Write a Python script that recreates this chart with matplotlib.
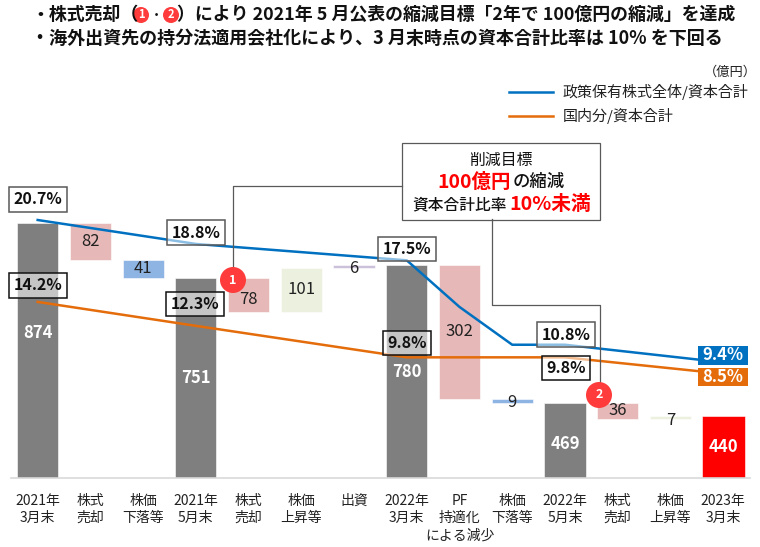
import numpy as np
import matplotlib
matplotlib.use("Agg")
import matplotlib.pyplot as plt
from matplotlib.patches import Circle, Rectangle

plt.rcParams['font.family'] = ['Noto Sans CJK JP', 'DejaVu Sans']

# data
categories = ['2021年\n3月末', '株式\n売却', '株価\n下落等', '2021年\n5月末', '株式\n売却', '株価\n上昇等', '出資',
              '2022年\n3月末', 'PF\n持適化\nによる減少', '株価\n下落等', '2022年\n5月末', '株式\n売却', '株価\n上昇等',
              '2023年\n3月末']
bar_low = [300, 792, 751, 300, 673, 673, 774, 300, 478, 469, 300, 433, 433, 300]
bar_high = [874, 874, 792, 751, 751, 774, 780, 780, 780, 478, 469, 469, 440, 440]
bar_labels = ['874', '82', '41', '751', '78', '101', '6', '780', '302', '9', '469', '36', '7', '440']
bar_colors = ['#7f7f7f', '#e6b9b8', '#8eb4e3', '#7f7f7f', '#e6b9b8', '#ebf1de', '#ccc1da',
              '#7f7f7f', '#e6b9b8', '#8eb4e3', '#7f7f7f', '#e6b9b8', '#ebf1de', '#ff0000']
label_colors = ['white', '#222222', '#222222', 'white', '#222222', '#222222', '#222222',
                'white', '#222222', '#222222', 'white', '#222222', '#222222', 'white']
label_shift = [18, 0, 0, 0, -4, 0, -2, 0, 0, -1, -3, 1, -3, 0]  # px, labels are not quite centred

total_x = [0, 3, 7, 8, 9, 10, 13]
total_ratio = [20.7, 18.8, 17.5, 13.8, 10.8, 10.8, 9.4]
domestic_x = [0, 3, 7, 8, 9, 10, 13]
domestic_ratio = [14.2, 12.3, 9.8, 9.8, 9.8, 9.8, 8.5]

# ratio boxes: text, centre x, centre y in px, edge colour
ratio_boxes = [('20.7%', 38, 199.5, '#595959'), ('14.2%', 38, 285.5, '#111111'), ('18.8%', 196, 232.5, '#595959'),
               ('12.3%', 195, 304, '#111111'), ('17.5%', 407, 249, '#595959'), ('9.8%', 407, 343, '#111111'),
               ('10.8%', 566, 334.5, '#595959'), ('9.8%', 566, 368, '#111111')]

W, H = 760, 547
base_px, top_px = 478.3, 167
left_px, right_px = 11.3, 749.5

fig = plt.figure(figsize=(W / 100, H / 100), dpi=100)

ax = fig.add_axes([left_px / W, 1 - base_px / H, (right_px - left_px) / W, (base_px - top_px) / H])
ax.set_xlim(-0.5, 13.5)
ax.set_ylim(300, 1000)
for i in range(len(categories)):
    w = 0.82 if i == 13 else 0.78
    ax.bar(i, bar_high[i] - bar_low[i], w, bottom=bar_low[i], color=bar_colors[i], edgecolor='white', linewidth=0.4)
ax.set_xticks(range(len(categories)))
ax.set_xticklabels(categories, fontsize=10, color='#222222', linespacing=1.3)
ax.tick_params(axis='x', length=0, pad=11)
ax.set_yticks([])
for s in ['top', 'left', 'right']:
    ax.spines[s].set_visible(False)
ax.spines['bottom'].set_color('#d9d9d9')
ax.spines['bottom'].set_linewidth(1.2)
ax.patch.set_alpha(0)

# ratio lines, 12.6 px per point
ax2 = ax.twinx()
ax2.set_ylim(20.7 - (base_px - 220) / 12.6, 20.7 + (220 - top_px) / 12.6)
ax2.plot(total_x, total_ratio, color='#0070c0', lw=1.8, solid_joinstyle='round')
ax2.plot(domestic_x, domestic_ratio, color='#e46c0a', lw=1.8, solid_joinstyle='round')
ax2.axis('off')

# overlay in pixel coordinates for the annotations
ov = fig.add_axes([0, 0, 1, 1])
ov.set_xlim(0, W)
ov.set_ylim(H, 0)
ov.axis('off')
ov.patch.set_alpha(0)

# value labels
px_per_unit = (base_px - top_px) / 700
for i, lab in enumerate(bar_labels):
    cx = left_px + (i + 0.5) * (right_px - left_px) / 14
    cy = base_px - ((bar_low[i] + bar_high[i]) / 2 - 300) * px_per_unit - label_shift[i]
    bold = label_colors[i] == 'white'
    ov.text(cx, cy, lab, ha='center', va='center', fontsize=12, color=label_colors[i],
            fontweight='bold' if bold else 'normal')

# title
ov.text(31, 15, '・株式売却（', fontsize=12.9, fontweight='bold', va='center', color='#111111')
ov.text(156, 15, '・', fontsize=8, fontweight='bold', ha='center', va='center', color='#111111')
ov.text(177, 15, '）により 2021年 5 月公表の縮減目標「2年で 100億円の縮減」を達成', fontsize=12.9,
        fontweight='bold', va='center', color='#111111')
ov.text(31, 38, '・海外出資先の持分法適用会社化により、3 月末時点の資本合計比率は 10% を下回る', fontsize=13,
        fontweight='bold', va='center', color='#111111')
for cx, num in [(141, '1'), (171, '2')]:
    ov.add_patch(Circle((cx, 15), 8, color='#ff3b3b', lw=0))
    ov.text(cx, 15, num, color='white', fontsize=8, fontweight='bold', ha='center', va='center')

# legend
ov.text(757, 72, '（億円）', fontsize=9.5, ha='right', va='center', color='#222222')
ov.plot([509, 553], [92, 92], color='#0070c0', lw=1.8)
ov.plot([509, 553], [116, 116], color='#e46c0a', lw=1.8)
ov.text(563, 92, '政策保有株式全体/資本合計', fontsize=10.8, va='center', color='#222222')
ov.text(563, 116, '国内分/資本合計', fontsize=10.8, va='center', color='#222222')

# callout
ov.add_patch(Rectangle((402, 142.5), 198, 77, fc='white', ec='#595959', lw=0.9))
ov.plot([402, 233, 233], [186, 186, 270], color='#595959', lw=0.9)
ov.plot([492, 492, 600, 600], [219, 305, 305, 395], color='#595959', lw=0.9)
ov.text(501, 160, '削減目標', fontsize=11.4, ha='center', va='center', color='#111111')
ov.text(437, 182, '100億円', fontsize=14, va='center', fontweight='bold', color='#ff0000')
ov.text(513, 182, 'の縮減', fontsize=12.5, va='center', fontweight='medium', color='#111111')
ov.text(412, 205, '資本合計比率', fontsize=11.3, va='center', fontweight='medium', color='#111111')
ov.text(509, 205, '10%未満', fontsize=14.2, va='center', fontweight='bold', color='#ff0000')

for cx, cy, num in [(233, 280, '1'), (599, 395, '2')]:
    ov.add_patch(Circle((cx, cy), 13, color='#ff3b3b', lw=0, zorder=4))
    ov.text(cx, cy, num, color='white', fontsize=9, fontweight='bold', ha='center', va='center', zorder=5)

# ratio boxes
for txt, cx, cy, ec in ratio_boxes:
    ov.text(cx, cy, txt, fontsize=11.5, fontweight='bold', ha='center', va='center', color='#111111',
            bbox=dict(boxstyle='square,pad=0.28', fc=(1, 1, 1, 0.55), ec=ec, lw=1.1))

# end labels
for txt, cy, col in [('9.4%', 355, '#0070c0'), ('8.5%', 376.5, '#e46c0a')]:
    ov.add_patch(Rectangle((698, cy - 9), 50, 18.5, fc=col, ec='none', zorder=4))
    ov.text(723, cy, txt, color='white', fontsize=12, fontweight='bold', ha='center', va='center', zorder=5)

fig.savefig('out.png', dpi=100)
